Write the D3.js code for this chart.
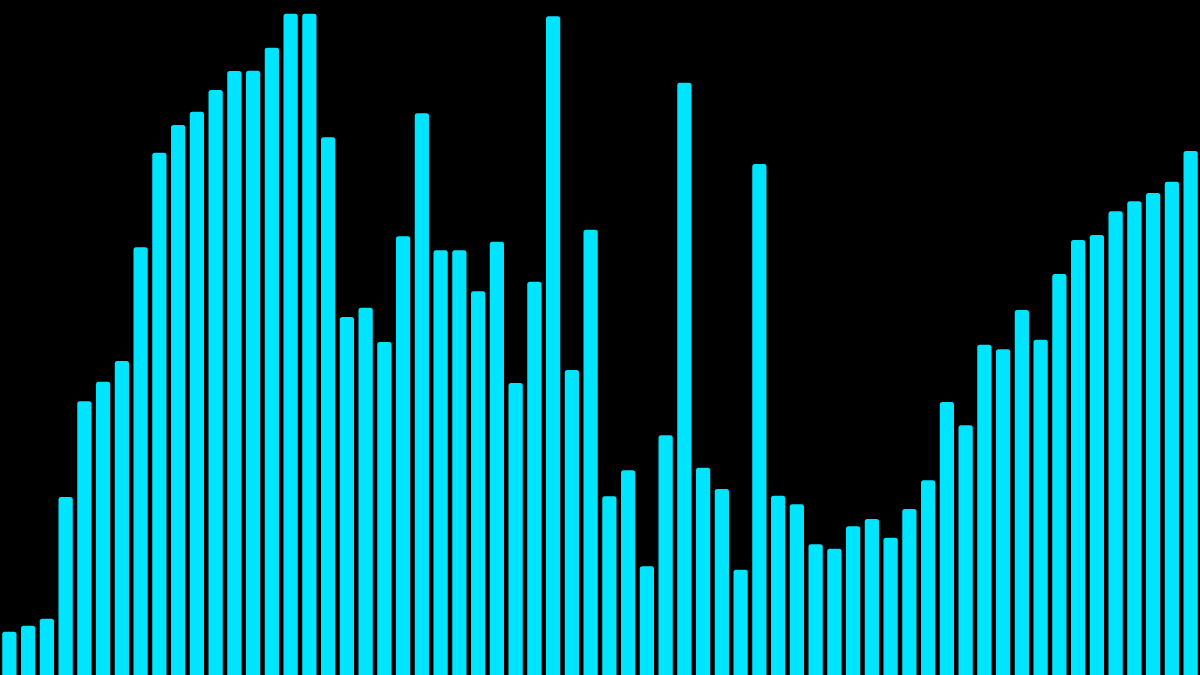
<!DOCTYPE html>
<html>
<head>
<meta charset="utf-8">
<script src="https://cdn.jsdelivr.net/npm/d3@7"></script>
<style>
  html, body { margin: 0; padding: 0; background: #000; overflow: hidden; }
  svg { display: block; }
</style>
</head>
<body>
<svg id="chart" width="1200" height="675"></svg>
<script>
const categories = d3.range(1, 65).map(i => "B" + i);
const values = [
  43.3, 49.3, 56.3, 178, 273.7, 293.3, 314, 427.7, 522.3, 550,
  563.3, 585, 604, 604.3, 627.3, 661.3, 661.3, 537.7, 358, 367.3,
  333, 438.7, 561.7, 424.7, 424.7, 383.7, 433.3, 292, 393.3, 658.7,
  305, 445.3, 178.7, 204.7, 108.7, 239.7, 592.3, 207.3, 186, 105.3,
  511, 179.3, 170.7, 130.7, 126.3, 148.7, 156, 137.3, 166, 194.7,
  273, 249.7, 330.3, 325.7, 365, 335.3, 401, 435, 440, 463.7,
  473.7, 482, 493.3, 524
];

const W = 1200, H = 675;
const svg = d3.select("#chart");
svg.append("rect").attr("width", W).attr("height", H).attr("fill", "#000");

const x = d3.scaleBand()
  .domain(categories)
  .range([0, W])
  .paddingInner(0.24)
  .paddingOuter(0.12);

const y = d3.scaleLinear().domain([0, 675]).range([H, 0]);

svg.append("g")
  .selectAll("rect")
  .data(values)
  .join("rect")
  .attr("x", (d, i) => x(categories[i]))
  .attr("width", x.bandwidth())
  .attr("y", d => y(d))
  .attr("height", d => H - y(d) + 3)
  .attr("rx", 2.5)
  .attr("fill", "#00E5FF");
</script>
</body>
</html>
